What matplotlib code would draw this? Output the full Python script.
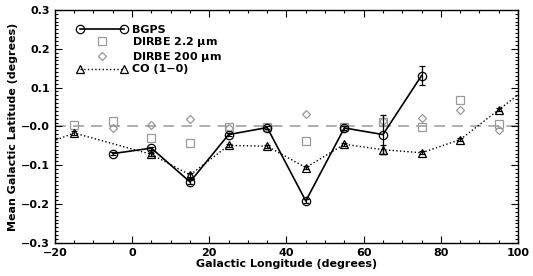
import matplotlib
matplotlib.use("Agg")
import matplotlib.pyplot as plt
from matplotlib.legend_handler import HandlerLine2D
from matplotlib.ticker import MultipleLocator

# ── Data ─────────────────────────────────────────────────────────────
bgps_l = [-5, 5, 15, 25, 35, 45, 55, 65, 75]
bgps_b = [-0.070, -0.056, -0.143, -0.021, -0.003, -0.192, -0.004, -0.021, 0.131]
bgps_err = [0.003, 0.004, 0.006, 0.004, 0.003, 0.004, 0.004, 0.050, 0.025]

dirbe2_l = [-15, -5, 5, 15, 25, 35, 45, 55, 65, 75, 85, 95]
dirbe2_b = [0.004, 0.015, -0.031, -0.043, -0.001, -0.002, -0.038, -0.002, 0.011, -0.002, 0.069, 0.006]

dirbe200_l = [-5, 5, 15, 25, 35, 45, 55, 65, 75, 85, 95]
dirbe200_b = [-0.004, 0.003, 0.020, -0.005, -0.001, 0.033, -0.003, 0.015, 0.022, 0.043, -0.010]

co_l = [-25, -15, 5, 15, 25, 35, 45, 55, 65, 75, 85, 95, 105]
co_b = [-0.055, -0.017, -0.072, -0.125, -0.049, -0.051, -0.106, -0.046, -0.060, -0.068, -0.034, 0.043, 0.120]
co_err = [0, 0.004, 0.004, 0.006, 0.004, 0.004, 0.004, 0.004, 0.012, 0.004, 0.004, 0.004, 0]

ytick_vals = [-0.3, -0.2, -0.1, 0.0, 0.1, 0.2, 0.3]
ytick_text = ["\u22120.3", "\u22120.2", "\u22120.1", "\u22120.0", "0.1", "0.2", "0.3"]

# ── Plot ─────────────────────────────────────────────────────────────
plt.rcParams["font.family"] = "DejaVu Sans"
plt.rcParams["font.weight"] = "bold"
plt.rcParams["axes.labelweight"] = "bold"
plt.rcParams["mathtext.default"] = "regular"
plt.rcParams["font.size"] = 8

fig = plt.figure(figsize=(5.33, 2.76), dpi=100)
ax = fig.add_axes([0.103, 0.120, 0.869, 0.844])

gray = "#999999"
ax.axhline(0, color="#a8a8a8", lw=1.3, ls=(0, (6, 4)), zorder=1)

h_sq, = ax.plot(dirbe2_l, dirbe2_b, "s", mfc="none", mec=gray, ms=6, mew=0.9, zorder=2)
h_di, = ax.plot(dirbe200_l, dirbe200_b, "D", mfc="none", mec=gray, ms=4, mew=0.9, zorder=2)

ax.errorbar(co_l, co_b, yerr=co_err, fmt="^", ls=":", color="black", mfc="none",
            ms=5.5, mew=0.9, lw=1.0, capsize=2.5, elinewidth=0.9, zorder=3)
h_co, = ax.plot([], [], "^", ls=":", color="black", mfc="none", ms=5.5, mew=0.9, lw=1.0)

ax.errorbar(bgps_l, bgps_b, yerr=bgps_err, fmt="o", ls="-", color="black", mfc="none",
            ms=6, mew=0.9, lw=1.2, capsize=2.5, elinewidth=0.9, zorder=4)
h_bg, = ax.plot([], [], "o", ls="-", color="black", mfc="none", ms=6, mew=0.9, lw=1.2)

ax.set_xlim(-20, 100)
ax.set_ylim(-0.3, 0.3)
ax.xaxis.set_major_locator(MultipleLocator(20))
ax.xaxis.set_minor_locator(MultipleLocator(5))
ax.set_yticks(ytick_vals)
ax.set_yticklabels(ytick_text)
ax.yaxis.set_minor_locator(MultipleLocator(0.01))
ax.tick_params(which="both", direction="in", top=True, right=True, width=0.8)
ax.tick_params(which="major", length=5)
ax.tick_params(which="minor", length=2.5)
for s in ax.spines.values():
    s.set_linewidth(1.0)

ax.set_xlabel("Galactic Longitude (degrees)", labelpad=1)
ax.set_ylabel("Mean Galactic Latitude (degrees)", labelpad=2)

one = HandlerLine2D(numpoints=1)
ax.legend([h_bg, h_sq, h_di, h_co],
          ["BGPS", "DIRBE 2.2 $\\mu$m", "DIRBE 200 $\\mu$m", "CO (1\u22120)"],
          handler_map={h_sq: one, h_di: one},
          loc="upper left", bbox_to_anchor=(0.035, 0.96), frameon=False,
          numpoints=2, handlelength=4.6, handletextpad=0.4,
          labelspacing=0.05, borderpad=0.0, fontsize=8)

fig.savefig("out.png", dpi=100)
